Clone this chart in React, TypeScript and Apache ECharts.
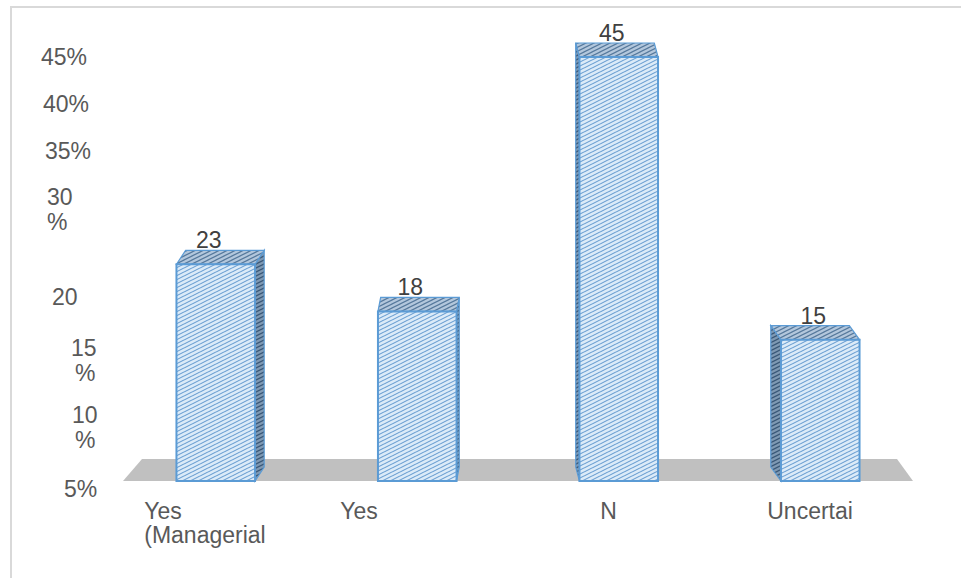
import React, { useEffect, useRef } from 'react';
import * as echarts from 'echarts';

// Survey answers and their shares (%)
const categories = ['Yes\n(Managerial', 'Yes', 'N', 'Uncertai'];
const shares = [23, 18, 45, 15];

// Y-axis ticks and the text printed beside each one
const yTickValues = [5, 10, 15, 20, 25, 30, 35, 40, 45];
const yTickLabels = ['5%', '10\n%', '15\n%', '20', '25', '30\n%', '35%', '40%', '45%'];

// Placement of every y tick label: left indent of each line, downward shift, hidden
const yLabelPlacement: Record<number, { indent: number[]; shift: number; hide?: boolean }> = {
  45: { indent: [1], shift: 0 },
  40: { indent: [3], shift: 0 },
  35: { indent: [5], shift: 0 },
  30: { indent: [7, 7], shift: 11 },
  25: { indent: [12], shift: 0, hide: true },
  20: { indent: [12], shift: 4 },
  15: { indent: [31, 35], shift: 21 },
  10: { indent: [32, 35], shift: 41 },
  5: { indent: [24], shift: 55 },
};
// Left indent of each category label inside its label box
const xLabelIndent = [17, 6, 123, 54];

const FONT = '"Liberation Sans", Arial, sans-serif';
const AXIS_TEXT = '#595959';

function hatch(bg: string, fg: string, lw: number) {
  const c = document.createElement('canvas');
  c.width = 8;
  c.height = 4;
  const g = c.getContext('2d')!;
  g.fillStyle = bg;
  g.fillRect(0, 0, 8, 4);
  g.strokeStyle = fg;
  g.lineWidth = lw;
  for (const oy of [-4, 0, 4]) {
    g.beginPath();
    g.moveTo(-2, 5 + oy);
    g.lineTo(10, -1 + oy);
    g.stroke();
  }
  return { image: c.toDataURL(), repeat: 'repeat', imageWidth: 8, imageHeight: 4 };
}

export default function App() {
  const ref = useRef<HTMLDivElement>(null);

  useEffect(() => {
    if (!ref.current) return;
    const chart = echarts.init(ref.current, null, { renderer: 'svg' });

    const frontFill = hatch('#dcebf8', '#6c9fd2', 1.1);
    const topFill = hatch('#b3c7dc', '#56789b', 1.2);
    const sideFill = hatch('#7f99b3', '#3a5878', 1.3);
    const edge = '#5b9bd5';

    // rich styles for the y tick labels
    const yRich: Record<string, any> = {
      t: { fontSize: 23, lineHeight: 25, color: AXIS_TEXT, fontFamily: FONT, align: 'left' },
    };
    Object.values(yLabelPlacement).forEach((p) => {
      p.indent.forEach((n) => {
        yRich['i' + n] = { width: n, lineHeight: 25, fontSize: 23, align: 'left' };
      });
      if (p.shift > 0) {
        const h = Math.round(p.shift * 2);
        yRich['v' + h] = { width: 1, height: h, lineHeight: h, fontSize: 1, align: 'left' };
      }
    });

    // rich styles for the category labels
    const xRich: Record<string, any> = {
      w: { width: 160, fontSize: 23, lineHeight: 24, color: AXIS_TEXT, fontFamily: FONT, align: 'left' },
    };
    xLabelIndent.forEach((n) => {
      xRich['x' + n] = { width: n, lineHeight: 24, fontSize: 23, align: 'left' };
    });

    chart.setOption({
      animation: false,
      backgroundColor: '#ffffff',
      grid: { left: 115, right: 40, top: 57, bottom: 97 },
      graphic: [
        {
          type: 'rect',
          silent: true,
          z: -10,
          shape: { x: 11, y: 7, width: 1100, height: 700 },
          style: { fill: 'none', stroke: '#d9d9d9', lineWidth: 2 },
        },
      ],
      xAxis: {
        type: 'category',
        data: categories,
        axisLine: { show: false },
        axisTick: { show: false },
        axisLabel: {
          interval: 0,
          margin: 18,
          rich: xRich,
          formatter: (v: string, idx: number) =>
            v
              .split('\n')
              .map((ln) => `{x${xLabelIndent[idx]}|}{w|${ln}}`)
              .join('\n'),
        },
      },
      yAxis: {
        type: 'value',
        min: 0,
        max: 45,
        interval: 5,
        axisLine: { show: false },
        axisTick: { show: false },
        splitLine: { show: false },
        axisLabel: {
          align: 'left',
          margin: 75,
          rich: yRich,
          formatter: (value: number) => {
            const i = yTickValues.indexOf(value);
            if (i < 0) return '';
            const p = yLabelPlacement[value];
            if (!p || p.hide) return '';
            const lines = yTickLabels[i].split('\n');
            let s = '';
            if (p.shift > 0) s += `{v${Math.round(p.shift * 2)}|}\n`;
            s += lines.map((ln, k) => `{i${p.indent[k]}|}{t|${ln}}`).join('\n');
            return s;
          },
        },
      },
      series: [
        {
          // grey floor under the bars
          type: 'custom',
          z: 1,
          silent: true,
          data: [[0, 0]],
          encode: { x: 0, y: 1 },
          renderItem: (params: any) => {
            const cs = params.coordSys;
            const yF = cs.y + cs.height;
            const yBk = yF - 22;
            return {
              type: 'polygon',
              shape: {
                points: [
                  [cs.x + 8, yF],
                  [cs.x + 27, yBk],
                  [cs.x + cs.width - 24, yBk],
                  [cs.x + cs.width - 8, yF],
                ],
              },
              style: { fill: '#c0c0c0' },
            };
          },
        },
        {
          // box-shaped bars
          type: 'custom',
          z: 2,
          data: shares.map((v, i) => [i, v]),
          encode: { x: 0, y: 1 },
          renderItem: (params: any, api: any) => {
            const idx = api.value(0);
            const v = api.value(1);
            const top = api.coord([idx, v]);
            const base = api.coord([idx, 0]);
            const band = api.size([1, 0])[0];
            const w = band * 0.39;
            const x1 = top[0] - w / 2;
            const x2 = top[0] + w / 2;
            const yT = top[1];
            const yB = base[1];
            const cs = params.coordSys;
            const vx = cs.x + cs.width * 0.48;
            const dx = (vx - top[0]) * 0.032;
            const dy = -14;
            const sx = dx >= 0 ? x2 : x1;
            return {
              type: 'group',
              children: [
                {
                  type: 'polygon',
                  shape: {
                    points: [
                      [sx, yT],
                      [sx + dx, yT + dy],
                      [sx + dx, yB + dy],
                      [sx, yB],
                    ],
                  },
                  style: { fill: sideFill, stroke: edge, lineWidth: 1.2 },
                },
                {
                  type: 'polygon',
                  shape: {
                    points: [
                      [x1, yT],
                      [x1 + dx, yT + dy],
                      [x2 + dx, yT + dy],
                      [x2, yT],
                    ],
                  },
                  style: { fill: topFill, stroke: edge, lineWidth: 1.2 },
                },
                {
                  type: 'rect',
                  shape: { x: x1, y: yT, width: w, height: yB - yT },
                  style: { fill: frontFill, stroke: edge, lineWidth: 2 },
                },
                {
                  type: 'text',
                  x: top[0] - 7,
                  y: yT - 24,
                  style: {
                    text: String(v),
                    fontSize: 23,
                    fontFamily: FONT,
                    fill: '#404040',
                    align: 'center',
                    verticalAlign: 'middle',
                  },
                },
              ],
            };
          },
        },
      ],
    });

    return () => chart.dispose();
  }, []);

  return (
    <div
      ref={ref}
      style={{ position: 'absolute', left: 0, top: 0, width: 961, height: 578 }}
    />
  );
}
